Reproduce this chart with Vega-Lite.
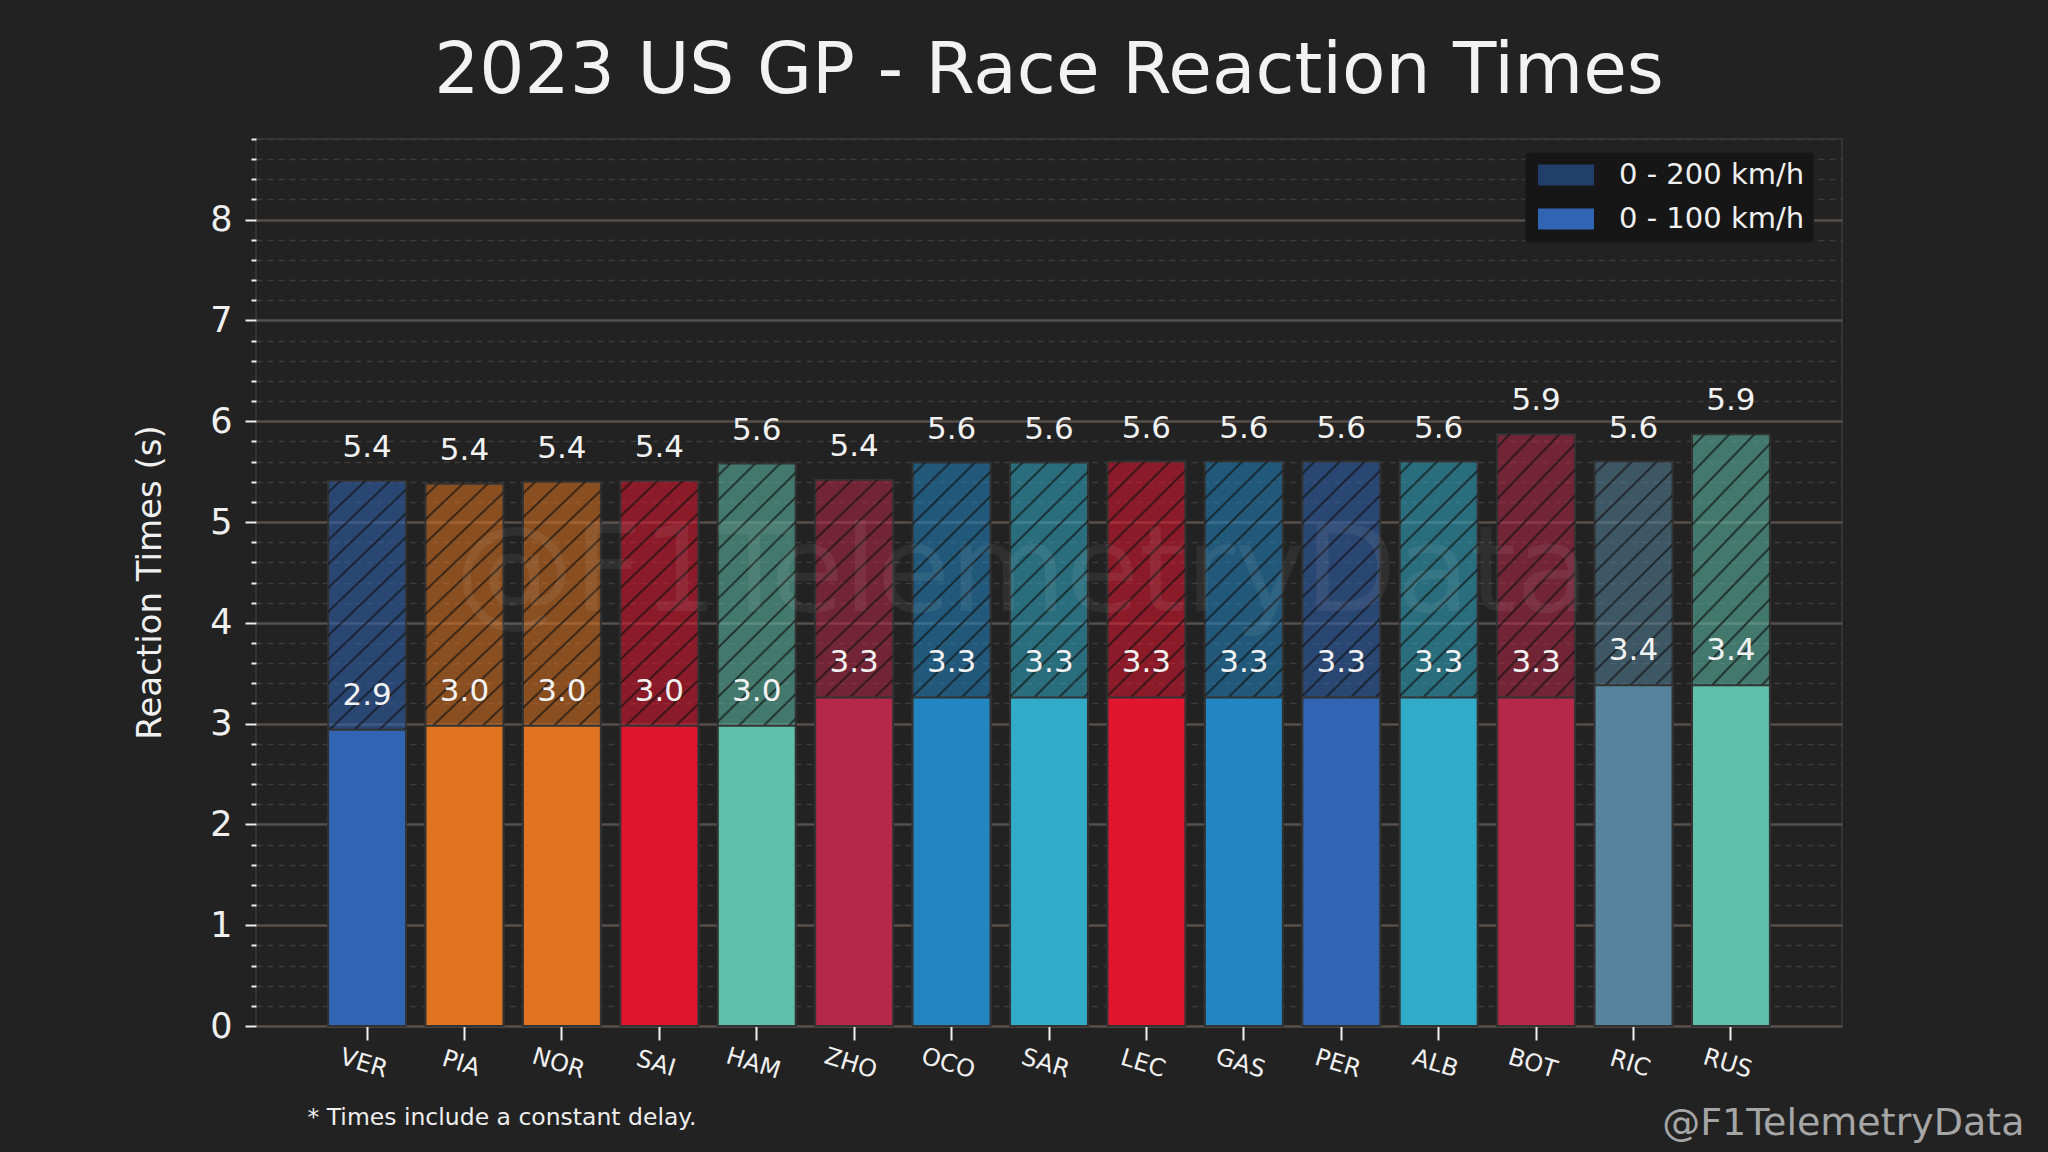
{
  "$schema": "https://vega.github.io/schema/vega-lite/v6.json",
  "background": "#222222",
  "autosize": {"type": "none"},
  "padding": {"left": 256, "top": 139, "right": 206, "bottom": 126},
  "width": 1586,
  "height": 887,

  "title": {
    "text": "2023 US GP - Race Reaction Times",
    "fontSize": 71,
    "fontWeight": "normal",
    "color": "#f2f2f2",
    "anchor": "middle",
    "offset": 30
  },

  "data": {
    "values": [
      {"driver": "VER", "team": "Red Bull", "t100": 2.94, "t200": 5.41},
      {"driver": "PIA", "team": "McLaren", "t100": 2.98, "t200": 5.38},
      {"driver": "NOR", "team": "McLaren", "t100": 2.98, "t200": 5.40},
      {"driver": "SAI", "team": "Ferrari", "t100": 2.98, "t200": 5.41},
      {"driver": "HAM", "team": "Mercedes", "t100": 2.98, "t200": 5.58},
      {"driver": "ZHO", "team": "Alfa Romeo", "t100": 3.26, "t200": 5.42},
      {"driver": "OCO", "team": "Alpine", "t100": 3.26, "t200": 5.59},
      {"driver": "SAR", "team": "Williams", "t100": 3.26, "t200": 5.59},
      {"driver": "LEC", "team": "Ferrari", "t100": 3.26, "t200": 5.60},
      {"driver": "GAS", "team": "Alpine", "t100": 3.26, "t200": 5.60},
      {"driver": "PER", "team": "Red Bull", "t100": 3.26, "t200": 5.60},
      {"driver": "ALB", "team": "Williams", "t100": 3.26, "t200": 5.60},
      {"driver": "BOT", "team": "Alfa Romeo", "t100": 3.26, "t200": 5.87},
      {"driver": "RIC", "team": "AlphaTauri", "t100": 3.38, "t200": 5.60},
      {"driver": "RUS", "team": "Mercedes", "t100": 3.38, "t200": 5.87}
    ]
  },

  "resolve": {"axis": {"y": "independent"}},

  "layer": [
    {
      "mark": {"type": "bar", "fillOpacity": 0.55, "stroke": "#333333", "strokeWidth": 2},
      "encoding": {
        "x": {
          "field": "driver",
          "type": "nominal",
          "sort": null,
          "scale": {"paddingInner": 0.2, "paddingOuter": 0.74},
          "axis": {
            "domain": false,
            "grid": false,
            "labelAngle": 17,
            "labelAlign": "center",
            "labelBaseline": "top",
            "labelFontSize": 24,
            "labelColor": "#f0f0f0",
            "labelPadding": 12,
            "tickColor": "#f0f0f0",
            "tickSize": 14,
            "tickWidth": 2,
            "title": "* Times include a constant delay.",
            "titleX": 51,
            "titleY": 91,
            "titleAlign": "left",
            "titleBaseline": "middle",
            "titleFontSize": 23.5,
            "titleFontWeight": "normal",
            "titleColor": "#eeeeee"
          }
        },
        "y": {
          "field": "t200",
          "type": "quantitative",
          "scale": {"domain": [0, 8.8], "nice": false},
          "axis": {
            "orient": "left",
            "values": [0, 1, 2, 3, 4, 5, 6, 7, 8],
            "domain": false,
            "grid": true,
            "gridColor": "#574f4b",
            "gridWidth": 2.5,
            "tickColor": "#eeeeee",
            "tickSize": 11,
            "tickWidth": 2,
            "labelFontSize": 35,
            "labelColor": "#f0f0f0",
            "labelPadding": 13,
            "title": "Reaction Times (s)",
            "titleFontSize": 34,
            "titleFontWeight": "normal",
            "titleColor": "#f0f0f0",
            "titleAngle": -90,
            "titleX": -106,
            "titleY": 443,
            "titleAlign": "center",
            "titleBaseline": "middle"
          }
        },
        "fill": {
          "field": "team",
          "type": "nominal",
          "legend": null,
          "scale": {
            "domain": ["Red Bull", "McLaren", "Ferrari", "Mercedes", "Alfa Romeo", "Alpine", "Williams", "AlphaTauri"],
            "range": ["#3264b4", "#e07420", "#e2152f", "#5fc0ac", "#b6284a", "#2286c3", "#32abc8", "#56849c"]
          }
        }
      }
    },
    {
      "mark": {
        "type": "bar",
        "stroke": null,
        "fill": {
          "gradient": "linear",
          "x1": 0, "y1": 0, "x2": 0.1527, "y2": 1.116,
          "stops": [
            {"offset": 0, "color": "rgba(17,17,17,0)"},
            {"offset": 0.0160, "color": "rgba(17,17,17,0)"}, {"offset": 0.0176, "color": "rgba(17,17,17,0.6)"}, {"offset": 0.0208, "color": "rgba(17,17,17,0.6)"}, {"offset": 0.0224, "color": "rgba(17,17,17,0)"},
            {"offset": 0.0545, "color": "rgba(17,17,17,0)"}, {"offset": 0.0561, "color": "rgba(17,17,17,0.6)"}, {"offset": 0.0593, "color": "rgba(17,17,17,0.6)"}, {"offset": 0.0609, "color": "rgba(17,17,17,0)"},
            {"offset": 0.0930, "color": "rgba(17,17,17,0)"}, {"offset": 0.0946, "color": "rgba(17,17,17,0.6)"}, {"offset": 0.0978, "color": "rgba(17,17,17,0.6)"}, {"offset": 0.0994, "color": "rgba(17,17,17,0)"},
            {"offset": 0.1314, "color": "rgba(17,17,17,0)"}, {"offset": 0.1330, "color": "rgba(17,17,17,0.6)"}, {"offset": 0.1362, "color": "rgba(17,17,17,0.6)"}, {"offset": 0.1378, "color": "rgba(17,17,17,0)"},
            {"offset": 0.1699, "color": "rgba(17,17,17,0)"}, {"offset": 0.1715, "color": "rgba(17,17,17,0.6)"}, {"offset": 0.1747, "color": "rgba(17,17,17,0.6)"}, {"offset": 0.1763, "color": "rgba(17,17,17,0)"},
            {"offset": 0.2083, "color": "rgba(17,17,17,0)"}, {"offset": 0.2099, "color": "rgba(17,17,17,0.6)"}, {"offset": 0.2131, "color": "rgba(17,17,17,0.6)"}, {"offset": 0.2147, "color": "rgba(17,17,17,0)"},
            {"offset": 0.2468, "color": "rgba(17,17,17,0)"}, {"offset": 0.2484, "color": "rgba(17,17,17,0.6)"}, {"offset": 0.2516, "color": "rgba(17,17,17,0.6)"}, {"offset": 0.2532, "color": "rgba(17,17,17,0)"},
            {"offset": 0.2853, "color": "rgba(17,17,17,0)"}, {"offset": 0.2869, "color": "rgba(17,17,17,0.6)"}, {"offset": 0.2901, "color": "rgba(17,17,17,0.6)"}, {"offset": 0.2917, "color": "rgba(17,17,17,0)"},
            {"offset": 0.3237, "color": "rgba(17,17,17,0)"}, {"offset": 0.3253, "color": "rgba(17,17,17,0.6)"}, {"offset": 0.3285, "color": "rgba(17,17,17,0.6)"}, {"offset": 0.3301, "color": "rgba(17,17,17,0)"},
            {"offset": 0.3622, "color": "rgba(17,17,17,0)"}, {"offset": 0.3638, "color": "rgba(17,17,17,0.6)"}, {"offset": 0.3670, "color": "rgba(17,17,17,0.6)"}, {"offset": 0.3686, "color": "rgba(17,17,17,0)"},
            {"offset": 0.4006, "color": "rgba(17,17,17,0)"}, {"offset": 0.4022, "color": "rgba(17,17,17,0.6)"}, {"offset": 0.4054, "color": "rgba(17,17,17,0.6)"}, {"offset": 0.4070, "color": "rgba(17,17,17,0)"},
            {"offset": 0.4391, "color": "rgba(17,17,17,0)"}, {"offset": 0.4407, "color": "rgba(17,17,17,0.6)"}, {"offset": 0.4439, "color": "rgba(17,17,17,0.6)"}, {"offset": 0.4455, "color": "rgba(17,17,17,0)"},
            {"offset": 0.4776, "color": "rgba(17,17,17,0)"}, {"offset": 0.4792, "color": "rgba(17,17,17,0.6)"}, {"offset": 0.4824, "color": "rgba(17,17,17,0.6)"}, {"offset": 0.4840, "color": "rgba(17,17,17,0)"},
            {"offset": 0.5160, "color": "rgba(17,17,17,0)"}, {"offset": 0.5176, "color": "rgba(17,17,17,0.6)"}, {"offset": 0.5208, "color": "rgba(17,17,17,0.6)"}, {"offset": 0.5224, "color": "rgba(17,17,17,0)"},
            {"offset": 0.5545, "color": "rgba(17,17,17,0)"}, {"offset": 0.5561, "color": "rgba(17,17,17,0.6)"}, {"offset": 0.5593, "color": "rgba(17,17,17,0.6)"}, {"offset": 0.5609, "color": "rgba(17,17,17,0)"},
            {"offset": 0.5930, "color": "rgba(17,17,17,0)"}, {"offset": 0.5946, "color": "rgba(17,17,17,0.6)"}, {"offset": 0.5978, "color": "rgba(17,17,17,0.6)"}, {"offset": 0.5994, "color": "rgba(17,17,17,0)"},
            {"offset": 0.6314, "color": "rgba(17,17,17,0)"}, {"offset": 0.6330, "color": "rgba(17,17,17,0.6)"}, {"offset": 0.6362, "color": "rgba(17,17,17,0.6)"}, {"offset": 0.6378, "color": "rgba(17,17,17,0)"},
            {"offset": 0.6699, "color": "rgba(17,17,17,0)"}, {"offset": 0.6715, "color": "rgba(17,17,17,0.6)"}, {"offset": 0.6747, "color": "rgba(17,17,17,0.6)"}, {"offset": 0.6763, "color": "rgba(17,17,17,0)"},
            {"offset": 0.7083, "color": "rgba(17,17,17,0)"}, {"offset": 0.7099, "color": "rgba(17,17,17,0.6)"}, {"offset": 0.7131, "color": "rgba(17,17,17,0.6)"}, {"offset": 0.7147, "color": "rgba(17,17,17,0)"},
            {"offset": 0.7468, "color": "rgba(17,17,17,0)"}, {"offset": 0.7484, "color": "rgba(17,17,17,0.6)"}, {"offset": 0.7516, "color": "rgba(17,17,17,0.6)"}, {"offset": 0.7532, "color": "rgba(17,17,17,0)"},
            {"offset": 0.7853, "color": "rgba(17,17,17,0)"}, {"offset": 0.7869, "color": "rgba(17,17,17,0.6)"}, {"offset": 0.7901, "color": "rgba(17,17,17,0.6)"}, {"offset": 0.7917, "color": "rgba(17,17,17,0)"},
            {"offset": 0.8237, "color": "rgba(17,17,17,0)"}, {"offset": 0.8253, "color": "rgba(17,17,17,0.6)"}, {"offset": 0.8285, "color": "rgba(17,17,17,0.6)"}, {"offset": 0.8301, "color": "rgba(17,17,17,0)"},
            {"offset": 0.8622, "color": "rgba(17,17,17,0)"}, {"offset": 0.8638, "color": "rgba(17,17,17,0.6)"}, {"offset": 0.8670, "color": "rgba(17,17,17,0.6)"}, {"offset": 0.8686, "color": "rgba(17,17,17,0)"},
            {"offset": 0.9006, "color": "rgba(17,17,17,0)"}, {"offset": 0.9022, "color": "rgba(17,17,17,0.6)"}, {"offset": 0.9054, "color": "rgba(17,17,17,0.6)"}, {"offset": 0.9070, "color": "rgba(17,17,17,0)"},
            {"offset": 0.9391, "color": "rgba(17,17,17,0)"}, {"offset": 0.9407, "color": "rgba(17,17,17,0.6)"}, {"offset": 0.9439, "color": "rgba(17,17,17,0.6)"}, {"offset": 0.9455, "color": "rgba(17,17,17,0)"},
            {"offset": 0.9776, "color": "rgba(17,17,17,0)"}, {"offset": 0.9792, "color": "rgba(17,17,17,0.6)"}, {"offset": 0.9824, "color": "rgba(17,17,17,0.6)"}, {"offset": 0.9840, "color": "rgba(17,17,17,0)"},
            {"offset": 1, "color": "rgba(17,17,17,0)"}
          ]
        }
      },
      "encoding": {
        "x": {"field": "driver", "type": "nominal", "sort": null},
        "y": {"field": "t200", "type": "quantitative", "axis": null}
      }
    },
    {
      "mark": {"type": "bar", "stroke": "#333333", "strokeWidth": 2},
      "encoding": {
        "x": {"field": "driver", "type": "nominal", "sort": null},
        "y": {
          "field": "t100",
          "type": "quantitative",
          "axis": {
            "orient": "left",
            "values": [0.2, 0.4, 0.6, 0.8, 1.2, 1.4, 1.6, 1.8, 2.2, 2.4, 2.6, 2.8, 3.2, 3.4, 3.6, 3.8, 4.2, 4.4, 4.6, 4.8, 5.2, 5.4, 5.6, 5.8, 6.2, 6.4, 6.6, 6.8, 7.2, 7.4, 7.6, 7.8, 8.2, 8.4, 8.6, 8.8],
            "domain": false,
            "labels": false,
            "grid": true,
            "gridColor": "#3e3b3a",
            "gridWidth": 1.3,
            "gridDash": [6, 5],
            "tickColor": "#eeeeee",
            "tickSize": 5,
            "tickWidth": 2,
            "title": "@F1TelemetryData",
            "titleAngle": 0,
            "titleX": 1768,
            "titleY": 984,
            "titleAlign": "right",
            "titleBaseline": "middle",
            "titleFontSize": 38,
            "titleFontWeight": "normal",
            "titleColor": "#a6a6a6"
          }
        },
        "fill": {"field": "team", "type": "nominal", "legend": null}
      }
    },
    {
      "mark": {"type": "text", "baseline": "middle", "dy": -33, "fontSize": 31, "color": "#f2f2f2"},
      "encoding": {
        "x": {"field": "driver", "type": "nominal", "sort": null},
        "y": {"field": "t200", "type": "quantitative", "axis": null},
        "text": {"field": "t200", "type": "quantitative", "format": ".1f"}
      }
    },
    {
      "mark": {"type": "text", "baseline": "middle", "dy": -34, "fontSize": 31, "color": "#f2f2f2"},
      "encoding": {
        "x": {"field": "driver", "type": "nominal", "sort": null},
        "y": {"field": "t100", "type": "quantitative", "axis": null},
        "text": {"field": "t100", "type": "quantitative", "format": ".1f"}
      }
    },
    {
      "data": {"values": [{"label": "@F1TelemetryData"}]},
      "mark": {"type": "text", "baseline": "middle", "fontSize": 119, "dx": -27, "color": "#ffffff", "opacity": 0.06},
      "encoding": {
        "x": {"datum": "SAR", "type": "nominal"},
        "y": {"datum": 4.47, "type": "quantitative", "axis": null},
        "text": {"field": "label"}
      }
    },
    {
      "data": {"values": [{"phase": "0 - 200 km/h"}, {"phase": "0 - 100 km/h"}]},
      "mark": {"type": "square", "opacity": 0, "size": 1},
      "encoding": {
        "color": {
          "field": "phase",
          "type": "nominal",
          "sort": null,
          "scale": {"domain": ["0 - 200 km/h", "0 - 100 km/h"], "range": ["#223f6c", "#3264b4"]},
          "legend": {
            "orient": "none",
            "legendX": 1269,
            "legendY": 13,
            "title": null,
            "symbolType": "M-2,-0.75L2,-0.75L2,0.75L-2,0.75Z",
            "symbolSize": 784,
            "symbolOffset": 18,
            "symbolOpacity": 1,
            "symbolStrokeColor": "#2b2b2b",
            "symbolStrokeWidth": 2,
            "labelFontSize": 29,
            "labelColor": "#f0f0f0",
            "labelOffset": 38,
            "labelLimit": 400,
            "fillColor": "#161616",
            "strokeColor": "#1c1c1c",
            "padding": 8,
            "rowPadding": 14,
            "cornerRadius": 4,
            "encode": {
              "symbols": {
                "update": {
                  "fill": [
                    {
                      "test": "datum.value === '0 - 200 km/h'",
                      "value": {
                        "gradient": "linear",
                        "x1": 0, "y1": 0, "x2": 1.2055, "y2": 0.452,
                        "stops": [
                          {"offset": 0, "color": "#223f6c"},
                          {"offset": 0.106, "color": "#223f6c"}, {"offset": 0.118, "color": "#132540"}, {"offset": 0.142, "color": "#132540"}, {"offset": 0.154, "color": "#223f6c"},
                          {"offset": 0.366, "color": "#223f6c"}, {"offset": 0.378, "color": "#132540"}, {"offset": 0.402, "color": "#132540"}, {"offset": 0.414, "color": "#223f6c"},
                          {"offset": 0.626, "color": "#223f6c"}, {"offset": 0.638, "color": "#132540"}, {"offset": 0.662, "color": "#132540"}, {"offset": 0.674, "color": "#223f6c"},
                          {"offset": 0.886, "color": "#223f6c"}, {"offset": 0.898, "color": "#132540"}, {"offset": 0.922, "color": "#132540"}, {"offset": 0.934, "color": "#223f6c"},
                          {"offset": 1, "color": "#223f6c"}
                        ]
                      }
                    },
                    {"value": "#3264b4"}
                  ]
                }
              }
            }
          }
        }
      }
    }
  ],

  "config": {
    "font": "DejaVu Sans",
    "view": {"fill": "#111111", "stroke": "#333333", "strokeWidth": 2},
    "axis": {"labelFont": "DejaVu Sans", "titleFont": "DejaVu Sans"},
    "legend": {"labelFont": "DejaVu Sans"},
    "title": {"font": "DejaVu Sans"},
    "text": {"font": "DejaVu Sans"}
  }
}
